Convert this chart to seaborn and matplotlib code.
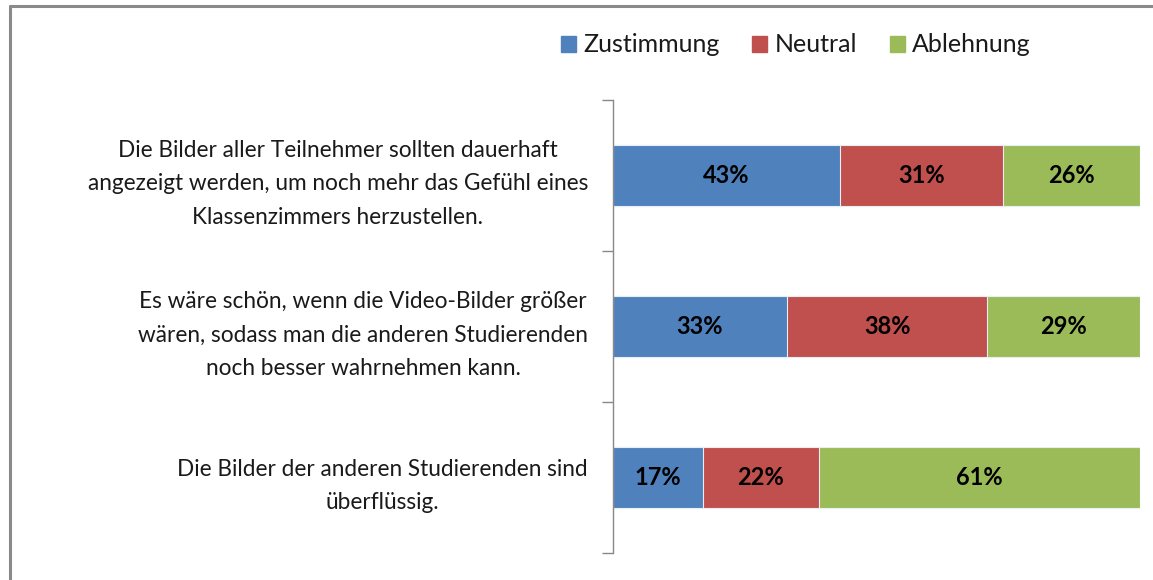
import matplotlib
matplotlib.use("Agg")
import matplotlib.pyplot as plt
import matplotlib.patches as mpatches
import seaborn as sns
import pandas as pd
import numpy as np

statements = [
    "Die Bilder aller Teilnehmer sollten dauerhaft\nangezeigt werden, um noch mehr das Gefühl eines\nKlassenzimmers herzustellen.",
    "Es wäre schön, wenn die Video-Bilder größer\nwären, sodass man die anderen Studierenden\nnoch besser wahrnehmen kann.",
    "Die Bilder der anderen Studierenden sind\nüberflüssig.",
]
series = ["Zustimmung", "Neutral", "Ablehnung"]
zustimmung = [43, 33, 17]
neutral = [31, 38, 22]
ablehnung = [26, 29, 61]
colors = ["#4F81BD", "#C0504D", "#9BBB59"]

sns.set_theme(style="white")
plt.rcParams['font.family'] = ['Lato', 'DejaVu Sans']

df = pd.DataFrame({"Aussage": statements, "Zustimmung": zustimmung,
                   "Neutral": neutral, "Ablehnung": ablehnung})
df["c1"] = df["Zustimmung"]
df["c2"] = df["c1"] + df["Neutral"]
df["c3"] = df["c2"] + df["Ablehnung"]

fig = plt.figure(figsize=(11.53, 5.80), dpi=100)
W, H = 1153, 580
ax = fig.add_axes([613 / W, 1 - 553 / H, (1140 - 613) / W, (553 - 100) / H])

# draw cumulative totals back to front to get a stacked look
for col, c in zip(["c3", "c2", "c1"], colors[::-1]):
    sns.barplot(data=df, x=col, y="Aussage", orient="h", color=c, width=0.4,
                edgecolor="#e8eef4", linewidth=0.8, ax=ax, saturation=1)

# value labels
for i in range(len(statements)):
    starts = [0, df["c1"][i], df["c2"][i]]
    vals = [zustimmung[i], neutral[i], ablehnung[i]]
    for s, v in zip(starts, vals):
        ax.text(s + v / 2, i, f"{v}%", ha="center", va="center",
                fontsize=17, fontweight="bold", color="black")

ax.set_xlim(0, 100)
ax.set_ylim(2.5, -0.5)
ax.set_xlabel("")
ax.set_ylabel("")
ax.set_xticks([])
for sp in ["top", "right", "bottom"]:
    ax.spines[sp].set_visible(False)
ax.spines["left"].set_color("#888888")
ax.spines["left"].set_linewidth(1.0)

ax.set_yticks(range(len(statements)))
ax.set_yticklabels(statements, fontsize=16.3, color="#1a1a1a",
                   multialignment="center", linespacing=1.75)
ax.set_yticks([-0.5, 0.5, 1.5, 2.5], minor=True)
ax.tick_params(axis="y", which="major", length=0, pad=18)
ax.tick_params(axis="y", which="minor", length=8, width=1.0, color="#888888", left=True)

handles = [mpatches.Patch(color=c, label=s) for c, s in zip(colors, series)]
fig.legend(handles=handles, loc="center", bbox_to_anchor=(796 / W, 1 - 45 / H),
           ncol=3, frameon=False, fontsize=18, handlelength=0.6, handleheight=0.6,
           handletextpad=0.3, columnspacing=1.3, labelcolor="#1a1a1a")

# frame lines (top and left) of the chart area
fig.add_artist(plt.Line2D([10 / W, 1], [1 - 6 / H, 1 - 6 / H], color="#8a8a8a", lw=2.2))
fig.add_artist(plt.Line2D([10 / W, 10 / W], [0, 1 - 6 / H], color="#8a8a8a", lw=2.2))

fig.savefig("out.png", dpi=100, facecolor="white")
